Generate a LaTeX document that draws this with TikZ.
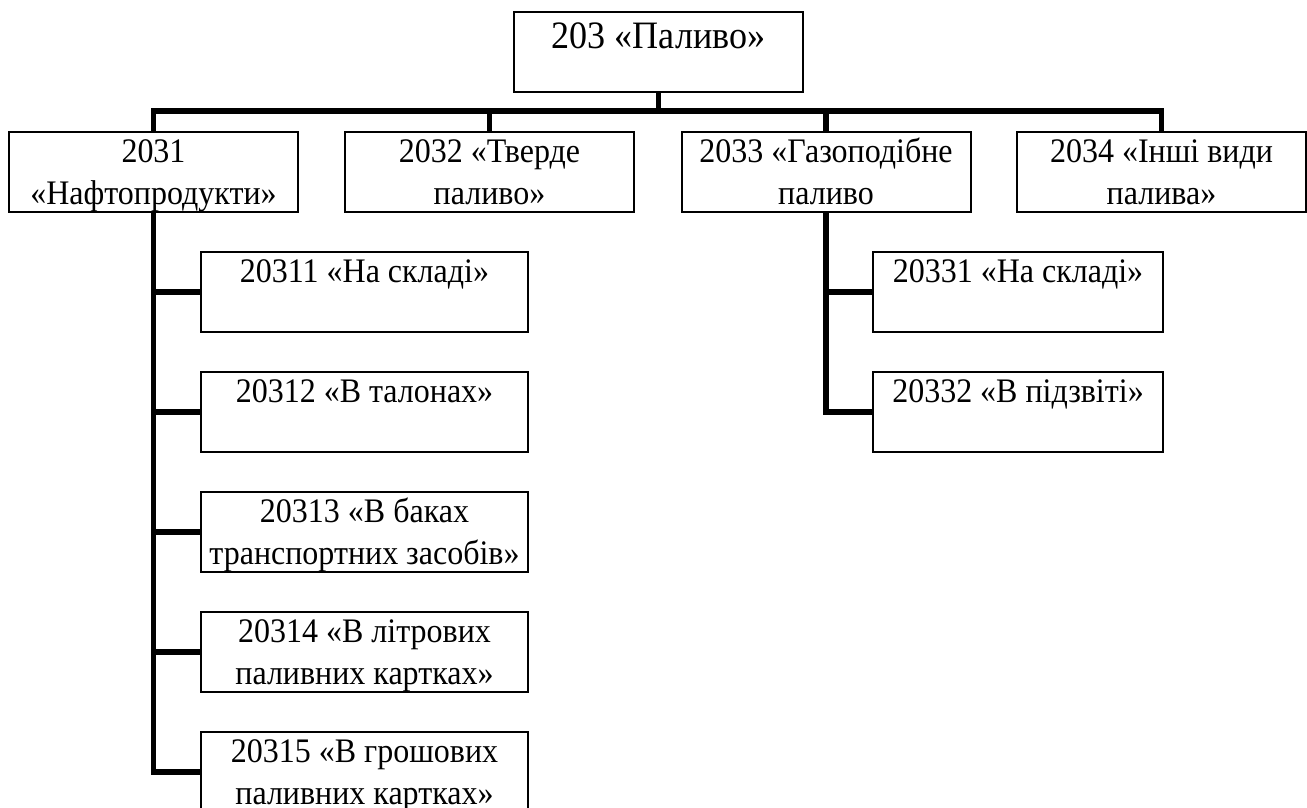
\documentclass[tikz,border=0pt]{standalone}
\usepackage{fontspec}
\setmainfont{Liberation Serif}[FakeStretch=0.93]
\tikzset{
  box/.style={draw, line width=2pt, rectangle, inner sep=0pt, outer sep=0pt, fill=white},
  conn/.style={line width=5.5pt},
}
\newcommand{\bt}[2]{\parbox[c][80pt][t]{#1}{\centering\fontsize{34.4}{41.5}\selectfont\rule{0pt}{30.5pt}#2}}
\begin{document}
\begin{tikzpicture}[x=1pt,y=-1pt]
\useasboundingbox (0,0) rectangle (1307,807);
% nodes
\node[box] (top) at (658.5,52) {\parbox[c][80pt][t]{289pt}{\centering\fontsize{38.8}{44}\selectfont\rule{0pt}{36pt}203 «Паливо»}};
\node[box] (n2031) at (153.5,172) {\bt{289pt}{2031\\«Нафтопродукти»}};
\node[box] (n2032) at (489.5,172) {\bt{289pt}{2032 «Тверде\\паливо»}};
\node[box] (n2033) at (826,172) {\bt{289pt}{2033 «Газоподібне\\паливо}};
\node[box] (n2034) at (1161.5,172) {\bt{289pt}{2034 «Інші види\\палива»}};
\node[box] (n20311) at (364.5,292) {\bt{327pt}{20311 «На складі»}};
\node[box] (n20312) at (364.5,412) {\bt{327pt}{20312 «В талонах»}};
\node[box] (n20313) at (364.5,532) {\bt{327pt}{20313 «В баках\\транспортних засобів»}};
\node[box] (n20314) at (364.5,652) {\bt{327pt}{20314 «В літрових\\паливних картках»}};
\node[box] (n20315) at (364.5,772) {\bt{327pt}{20315 «В грошових\\паливних картках»}};
\node[box] (n20331) at (1018,292) {\bt{290pt}{20331 «На складі»}};
\node[box] (n20332) at (1018,412) {\bt{290pt}{20332 «В підзвіті»}};
\coordinate (bus) at (658.5,111);
% connectors
\draw[conn] (top.south) -- (bus);
\draw[conn] (n2031.north) |- (bus) -| (n2034.north);
\draw[conn] (n2032.north) -- (n2032.north |- bus);
\draw[conn] (n2033.north) -- (n2033.north |- bus);
\draw[conn] (n2031.south) |- (n20315.west);
\foreach \n in {n20311,n20312,n20313,n20314}
  \draw[conn] (\n.west) -- (\n.west -| n2031.south);
\draw[conn] (n2033.south) |- (n20332.west);
\draw[conn] (n20331.west) -- (n20331.west -| n2033.south);
\end{tikzpicture}
\end{document}
